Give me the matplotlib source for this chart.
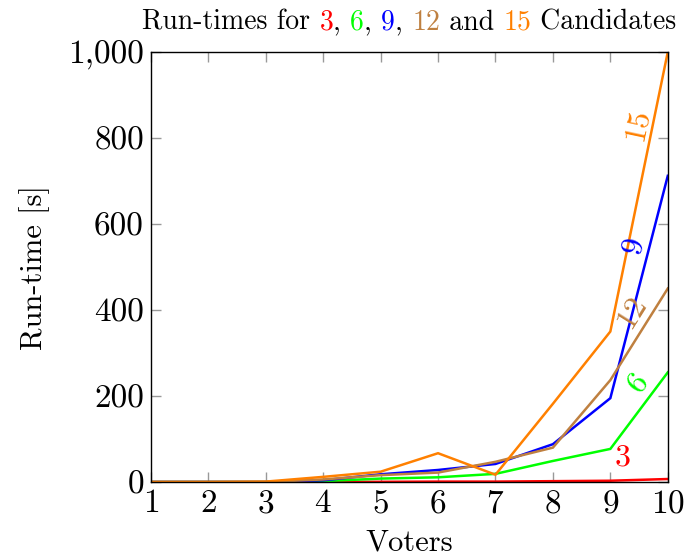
"""
Run-times of the solver for different candidate counts, pgfplots look.
"""

import matplotlib
matplotlib.use("Agg")
import matplotlib.pyplot as plt
from matplotlib.ticker import FuncFormatter

# ----------------------------------- Data -----------------------------------

voters = [1, 2, 3, 4, 5, 6, 7, 8, 9, 10]
runtime_3 = [0, 0, 0, 0, 0.5, 1, 1, 2, 3, 7]
runtime_6 = [0, 0, 0, 2, 8, 11, 19, 49, 77, 255]
runtime_9 = [0, 0, 0, 4, 18, 28, 42, 88, 195, 712]
runtime_12 = [0, 0, 0, 6, 16, 22, 47, 80, 237, 450]
runtime_15 = [0, 0, 1, 12, 24, 67, 17, 182, 350, 1000]

candidates = ["3", "6", "9", "12", "15"]
colors = ["#ff0000", "#00ff00", "#0000ff", "#bf8040", "#ff8000"]

# label placement near the right end of each curve (x, y, rotation)
label_spots = [(9.22, 56, 0), (9.48, 230, 53), (9.40, 551, 76),
               (9.38, 395, 58), (9.48, 830, 78)]

# ---------------------------------- Style -----------------------------------

plt.rcParams["font.family"] = "serif"
plt.rcParams["font.serif"] = ["cmr10"]
plt.rcParams["mathtext.fontset"] = "cm"
plt.rcParams["axes.formatter.use_mathtext"] = True

TICK_FS = 24
LABEL_FS = 22
TITLE_FS = 20

fig = plt.figure(figsize=(6.92, 5.59), dpi=100)
ax = fig.add_axes([0.218, 0.1377, 0.747, 0.7693])

series = [runtime_3, runtime_6, runtime_9, runtime_12, runtime_15]
for vals, col in zip(series, colors):
    ax.plot(voters, vals, color=col, linewidth=1.8, solid_joinstyle="miter")

for name, col, (x, y, rot) in zip(candidates, colors, label_spots):
    ax.text(x, y, name, color=col, rotation=rot, ha="center", va="center",
            rotation_mode="anchor", fontsize=23)

ax.set_xlim(1, 10)
ax.set_ylim(0, 1000)
ax.set_xticks(voters)
ax.set_yticks([0, 200, 400, 600, 800, 1000])
ax.yaxis.set_major_formatter(FuncFormatter(lambda v, p: f"{int(v):,}"))
ax.tick_params(direction="in", top=True, right=True, length=7, width=1,
               color="#999999", labelsize=TICK_FS, pad=5)
for sp in ax.spines.values():
    sp.set_linewidth(1.0)
    sp.set_color("black")

ax.set_xlabel("Voters", fontsize=LABEL_FS, labelpad=8)
ax.set_ylabel("Run-time [s]", fontsize=LABEL_FS, labelpad=13)

# ------------------------- Title with coloured numbers -------------------------

pieces = [("Run-times for ", "black"), ("3", colors[0]), (", ", "black"),
          ("6", colors[1]), (", ", "black"), ("9", colors[2]), (", ", "black"),
          ("12", colors[3]), (" and ", "black"), ("15", colors[4]),
          (" Candidates", "black")]

TITLE_Y = 0.947
parts = []
for txt, col in pieces:
    parts.append(fig.text(0, TITLE_Y, txt, color=col, fontsize=TITLE_FS,
                          ha="left", va="baseline"))

# lay out pieces one after another, then centre the whole line over the axes
fig.canvas.draw()
renderer = fig.canvas.get_renderer()
widths = [p.get_window_extent(renderer).width for p in parts]
total = sum(widths)
ax_box = ax.get_window_extent(renderer)
x0 = (ax_box.x0 + ax_box.x1) / 2 - total / 2
fw = fig.bbox.width
for p, w in zip(parts, widths):
    p.set_position((x0 / fw, TITLE_Y))
    x0 += w

fig.savefig("out.png", dpi=100)
